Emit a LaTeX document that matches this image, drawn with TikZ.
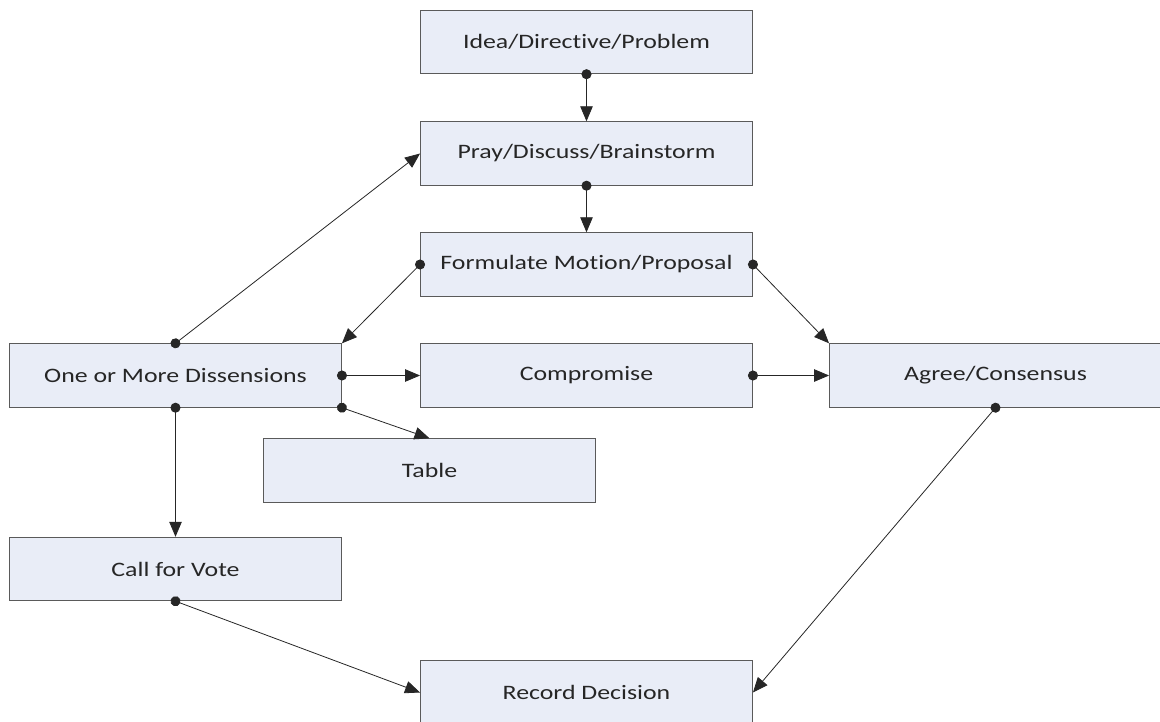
\documentclass[tikz,border=0pt]{standalone}
\usepackage{fontspec}
\setmainfont{Carlito}[FakeStretch=1.26,Ligatures=NoCommon]
\usepackage{tikz}
\usetikzlibrary{arrows.meta}

\definecolor{boxfill}{HTML}{E9EDF7}
\definecolor{boxline}{HTML}{5A5A5A}

\begin{document}
\begin{tikzpicture}[
      x=1pt, y=-1pt,
      stepbox/.style={draw=boxline,fill=boxfill,line width=0.9pt,minimum width=332pt,minimum height=63.5pt,inner sep=0pt,text=black!85,font=\fontsize{20.5}{24}\selectfont},
      link/.style={draw=black!85,line width=0.8pt,{Circle[length=10pt]}-{Triangle[length=15pt,width=12.5pt]},shorten <=-5pt}
    ]
    \useasboundingbox (0,0) rectangle (1160,721);
    % Draw the boxes.
    \node[stepbox] (idea)    at (586.5,42)  {Idea/Directive/Problem};
    \node[stepbox] (pray)    at (586.5,153.5) {Pray/Discuss/Brainstorm};
    \node[stepbox] (motion)  at (586.5,264.5) {Formulate Motion/Proposal};
    \node[stepbox] (dissent) at (175.5,375.5) {One or More Dissensions};
    \node[stepbox] (compro)  at (586.5,375.5) {Compromise};
    \node[stepbox] (agree)   at (995.5,375.5) {Agree/Consensus};
    \node[stepbox] (table)   at (429.5,470.5) {Table};
    \node[stepbox] (vote)    at (175.5,569)   {Call for Vote};
    \node[stepbox] (record)  at (586.5,692.5) {Record Decision};
    % Draw the transitions.
    \draw[link] (idea.south)    -- (pray.north);
    \draw[link] (pray.south)    -- (motion.north);
    \draw[link] (motion.west)   -- (dissent.north east);
    \draw[link] (motion.east)   -- (agree.north west);
    \draw[link] (dissent.north) -- (pray.west);
    \draw[link] (dissent.east)  -- (compro.west);
    \draw[link] (compro.east)   -- (agree.west);
    \draw[link] (dissent.south east) -- (table.north);
    \draw[link] (dissent.south) -- (vote.north);
    \draw[link] (vote.south)    -- (record.west);
    \draw[link] (agree.south)   -- (record.east);
\end{tikzpicture}
\end{document}
